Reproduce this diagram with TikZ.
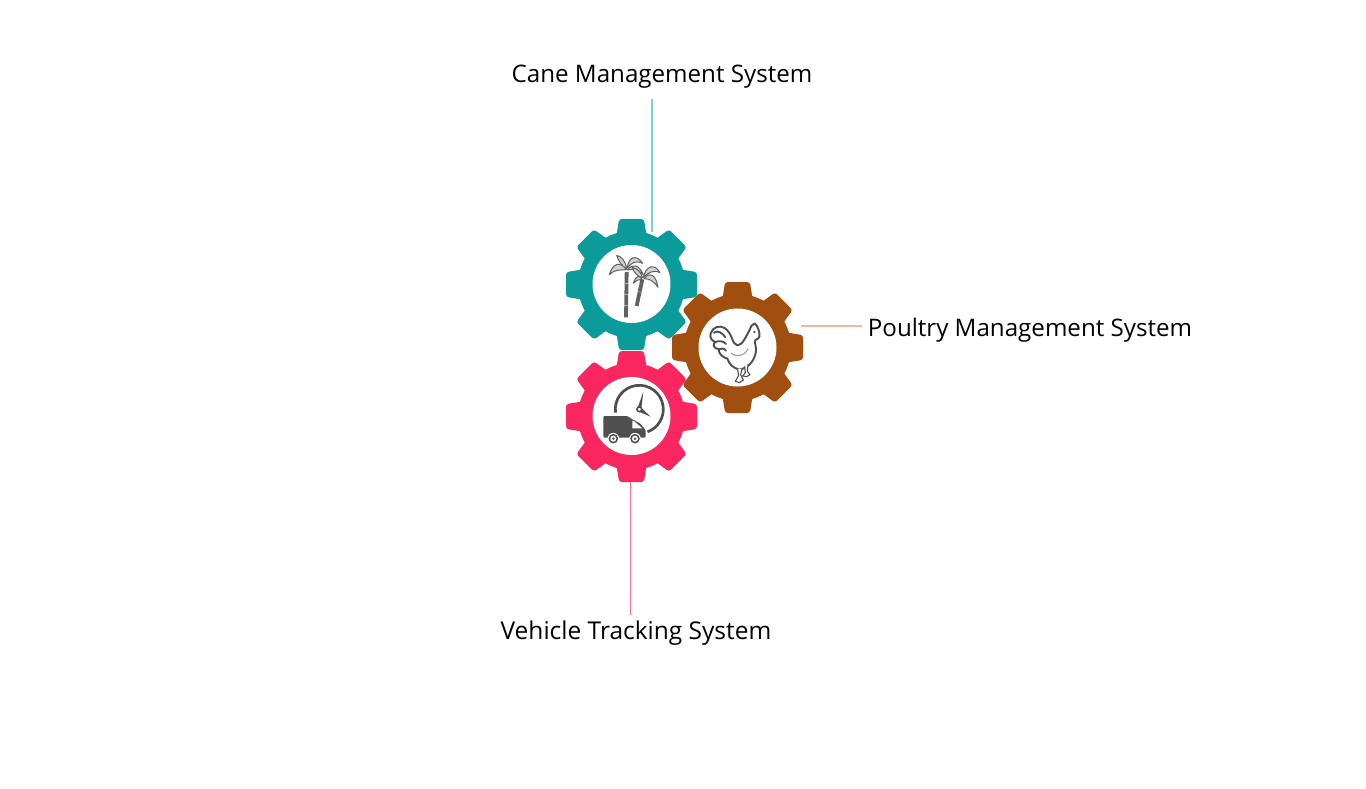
\documentclass[tikz,border=0pt]{standalone}
\usepackage{fontspec}
\setmainfont{Open Sans}
\definecolor{tealgear}{HTML}{0A9B9A}
\definecolor{browngear}{HTML}{A04F11}
\definecolor{pinkgear}{HTML}{FA2660}
\definecolor{tealline}{HTML}{7FCFCD}
\definecolor{brownline}{HTML}{E8BC9A}
\definecolor{pinkline}{HTML}{FB7099}
\definecolor{icondark}{HTML}{4F4F4F}
\definecolor{leafgrey}{HTML}{D0D0D0}
\newcommand{\gearbody}[3]{%
  \fill[#3] (#1,#2) circle (53.5pt);
  \foreach \a in {0,45,...,315}{
    \begin{scope}[shift={(#1,#2)},rotate=\a]
      \fill[#3,rounded corners=2.8pt] (46,-15.5) -- (53,-14.4) -- (65.5,-12.4) -- (65.5,12.4) -- (53,14.4) -- (46,15.5) -- cycle;
    \end{scope}
  }%
}
\tikzset{
  gearhole/.style={circle,fill=white,minimum size=78pt,inner sep=0pt},
  labeltext/.style={font=\fontsize{24.15}{28}\selectfont,text=black,inner ysep=0pt,inner xsep=0pt},
  connector/.style={line width=1.2pt},
  leaf/.style={draw=icondark!90,fill=leafgrey,line width=1pt,line join=round},
  stem/.style={draw=icondark!90,line width=3.8pt},
  bird/.style={draw=icondark,line width=1.9pt,line join=round,line cap=round},
  birdthin/.style={draw=icondark!55,line width=1.1pt,line cap=round}
}
\begin{document}
\begin{tikzpicture}[x=1pt,y=-1pt]
\useasboundingbox (0,0) rectangle (1366,788);
\fill[white] (0,0) rectangle (1366,788);
% gears
\gearbody{631.5}{284.5}{tealgear}
\gearbody{737.5}{347.5}{browngear}
\gearbody{631.5}{416.5}{pinkgear}
\node[gearhole] (canegear) at (631.5,284) {};
\node[gearhole] (poultrygear) at (737.5,347.5) {};
\node[gearhole] (vehiclegear) at (631.5,416) {};
% labels
\node[labeltext,minimum height=45pt] (canelabel) at (662,76.5) {Cane Management System};
\node[labeltext,inner xsep=6pt] (poultrylabel) at (1030,330.5) {Poultry Management System};
\node[labeltext,font=\fontsize{24.5}{28}\selectfont,minimum height=37pt] (vehiclelabel) at (636,633.5) {Vehicle Tracking System};
% connector ends
\coordinate (canetip) at (652,232);
\coordinate (poultrytip) at (801,326);
\coordinate (vehicletip) at (630.5,482);
\draw[tealline,connector] (canelabel.south -| canetip) -- (canetip);
\draw[brownline,connector] (poultrylabel.west |- poultrytip) -- (poultrytip);
\draw[pinkline,connector] (vehiclelabel.north -| vehicletip) -- (vehicletip);
% cane icon
\begin{scope}[shift={(600,248)},x=.3333pt,y=-.3333pt]
  \draw[stem] (80,72) -- (78,208);
  \draw[stem] (127,94) -- (110,174);
  \foreach \yy in {105,140,172}{\draw[icondark!45,line width=.5pt] (73,\yy) -- (85,\yy);}
  \draw[icondark!45,line width=.5pt] (112,130) -- (126,133);
  \draw[leaf] (80,65) .. controls (60,38) and (38,46) .. (28,80) .. controls (45,64) and (60,66) .. (80,65) -- cycle;
  \draw[leaf] (80,62) .. controls (76,38) and (65,26) .. (50,22) .. controls (56,40) and (65,54) .. (80,62) -- cycle;
  \draw[leaf] (82,60) .. controls (85,28) and (108,16) .. (128,46) .. controls (106,36) and (95,44) .. (82,60) -- cycle;
  \draw[leaf] (82,66) .. controls (100,44) and (118,52) .. (130,80) .. controls (114,64) and (100,62) .. (82,66) -- cycle;
  \draw[leaf] (130,88) .. controls (138,54) and (162,44) .. (180,74) .. controls (160,64) and (145,74) .. (130,88) -- cycle;
  \draw[leaf] (132,92) .. controls (150,68) and (168,82) .. (174,118) .. controls (160,98) and (148,92) .. (132,92) -- cycle;
  \draw[leaf] (128,90) .. controls (122,70) and (112,62) .. (96,58) .. controls (102,74) and (114,86) .. (128,90) -- cycle;
  \draw[leaf] (126,94) .. controls (118,80) and (108,82) .. (100,106) .. controls (110,96) and (118,94) .. (126,94) -- cycle;
\end{scope}
% rooster icon
\begin{scope}[shift={(704,316)},x=.3333pt,y=-.3333pt]
  \draw[bird,fill=white] (137,42) .. controls (126,60) and (116,88) .. (100,88)
    .. controls (84,86) and (86,52) .. (62,36)
    .. controls (46,26) and (26,34) .. (20,52)
    .. controls (16,66) and (24,74) .. (34,78)
    .. controls (26,84) and (26,96) .. (44,100)
    .. controls (44,116) and (58,124) .. (70,128)
    .. controls (76,146) and (90,158) .. (106,160)
    .. controls (132,158) and (152,134) .. (156,106)
    .. controls (158,92) and (150,82) .. (154,72)
    .. controls (160,68) and (166,68) .. (166,62)
    .. controls (168,50) and (162,30) .. (152,22)
    .. controls (144,24) and (140,32) .. (137,42) -- cycle;
  \draw[bird] (30,50) .. controls (40,42) and (56,50) .. (64,64);
  \draw[bird] (34,78) .. controls (44,74) and (58,74) .. (66,84);
  \draw[bird] (44,100) .. controls (52,96) and (60,96) .. (66,104);
  \draw[birdthin] (82,112) .. controls (96,124) and (122,122) .. (132,98);
  \draw[bird,line width=1.1pt,fill=white] (100,158) -- (104,178) -- (94,196) -- (106,200) -- (118,192) -- (110,176) -- (114,158);
  \draw[bird,line width=1.1pt,fill=white] (122,152) -- (124,170) -- (116,180) -- (128,182) -- (138,176) -- (130,166) -- (132,146);
  \fill[icondark] (151,48) circle (1.3pt);
\end{scope}
% vehicle and clock icon
\draw[icondark,line width=2.7pt] (639.3,409.3) ++(188:24pt) arc[start angle=188,end angle=-70,radius=24pt];
\fill[icondark] (637.5,408.4) -- (643.3,391.7) -- (641.2,409.8) -- cycle;
\fill[icondark] (640.8,407.4) -- (650.7,416.7) -- (638,411.2) -- cycle;
\draw[icondark,line width=1.6pt,fill=white] (639.3,409.3) circle (2.4pt);
\begin{scope}[shift={(550,340)},x=.3333pt,y=-.3333pt]
  \fill[icondark,rounded corners=1pt] (160,228) -- (232,228) -- (247,238) -- (270,250) -- (287,270) -- (287,293) -- (160,293) -- cycle;
  \fill[white] (247,243) -- (252,243) -- (277,265) -- (247,265) -- cycle;
  \foreach \wx in {190,255}{
    \fill[white] (\wx,296) circle (5.8pt);
    \fill[icondark] (\wx,296) circle (4.8pt);
    \fill[white] (\wx,296) circle (3pt);
    \fill[icondark] (\wx,296) circle (1.4pt);
  }
\end{scope}
\end{tikzpicture}
\end{document}
